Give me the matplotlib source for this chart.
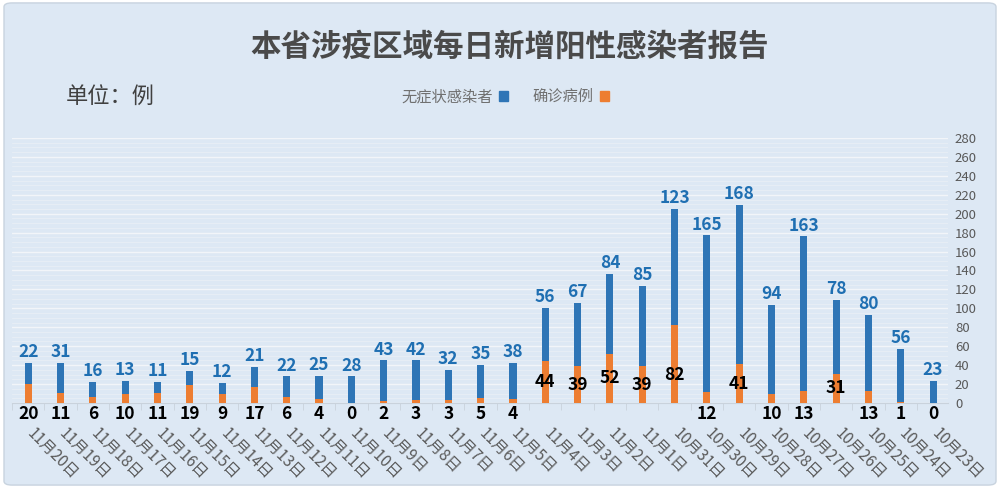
import numpy as np
import matplotlib
matplotlib.use('Agg')
import matplotlib.pyplot as plt
from matplotlib.patches import FancyBboxPatch, Patch

plt.rcParams['font.family'] = ['Noto Sans CJK SC', 'DejaVu Sans']

# 日期 (按时间顺序)
dates = ['10月23日', '10月24日', '10月25日', '10月26日', '10月27日', '10月28日',
         '10月29日', '10月30日', '10月31日', '11月1日', '11月2日', '11月3日',
         '11月4日', '11月5日', '11月6日', '11月7日', '11月8日', '11月9日',
         '11月10日', '11月11日', '11月12日', '11月13日', '11月14日', '11月15日',
         '11月16日', '11月17日', '11月18日', '11月19日', '11月20日']
confirmed = [0, 1, 13, 31, 13, 10, 41, 12, 82, 39, 52, 39, 44, 4, 5, 3, 3, 2,
             0, 4, 6, 17, 9, 19, 11, 10, 6, 11, 20]
asymptomatic = [23, 56, 80, 78, 163, 94, 168, 165, 123, 85, 84, 67, 56, 38, 35,
                32, 42, 43, 28, 25, 22, 21, 12, 15, 11, 13, 16, 31, 22]

bg = '#dde8f4'
blue = '#2e75b6'
orange = '#ed7d31'
gray = '#595959'

fig = plt.figure(figsize=(10, 4.88), dpi=100)
fig.patch.set_facecolor('white')
border = FancyBboxPatch((0.004, 0.006), 0.992, 0.988,
                        boxstyle='round,pad=0,rounding_size=0.008',
                        transform=fig.transFigure, facecolor=bg,
                        edgecolor='#c8d3df', linewidth=1, zorder=-10)
fig.patches.append(border)

ax = fig.add_axes([0.012, 0.1742, 0.936, 0.543])
ax.set_facecolor('none')

x = np.arange(len(dates))
conf = np.array(confirmed)
asym = np.array(asymptomatic)

ax.bar(x, conf, width=0.22, color=orange, zorder=3)
ax.bar(x, asym, width=0.22, bottom=conf, color=blue, zorder=3)

# 数据标签
for xi, c, a in zip(x, conf, asym):
    ax.text(xi, c + a + 2, str(a), ha='center', va='bottom', color='#1f6fb2',
            fontsize=12.5, fontweight='bold', zorder=4)
    if c >= 30:
        ax.text(xi, min(c / 2, 30), str(c), ha='center', va='center',
                color='black', fontsize=12.5, fontweight='bold', zorder=4)
    else:
        ax.text(xi, -2, str(c), ha='center', va='top', color='black',
                fontsize=12.5, fontweight='bold', zorder=4)

ax.set_xlim(28.5, -0.46)
ax.set_ylim(0, 280)
ax.set_yticks(np.arange(0, 281, 20))
ax.set_yticks(np.arange(0, 281, 5), minor=True)
ax.yaxis.tick_right()
ax.tick_params(axis='y', which='both', length=0, labelsize=9.5, labelcolor=gray, pad=5)
ax.grid(axis='y', which='major', color='#f2f5f9', linewidth=1.0, zorder=1)
ax.grid(axis='y', which='minor', color='#e8eef6', linewidth=0.6, zorder=1)

ax.set_xticks(x - 0.22)
ax.set_xticklabels(dates, rotation=-45, ha='left', va='top',
                   rotation_mode='anchor', fontsize=11, color=gray)
ax.tick_params(axis='x', length=0, pad=16)
ax.set_xticks(x + 0.5, minor=True)
ax.tick_params(axis='x', which='minor', length=5, color='#c9d2dc', direction='out')
for side in ['top', 'left', 'right']:
    ax.spines[side].set_visible(False)
ax.spines['bottom'].set_color('#c9d2dc')

fig.text(0.51, 0.905, '本省涉疫区域每日新增阳性感染者报告', ha='center', va='center',
         fontsize=22, fontweight='bold', color='#4a4a4a')
fig.text(0.11, 0.80, '单位：例', ha='center', va='center', fontsize=16, color='#404040')

handles = [Patch(color=blue), Patch(color=orange)]
fig.legend(handles, ['无症状感染者', '确诊病例'], loc='center', bbox_to_anchor=(0.505, 0.802),
           ncol=2, frameon=False, markerfirst=False, fontsize=11, labelcolor='#707070',
           handlelength=0.6, handleheight=0.6, handletextpad=0.4, columnspacing=1.6)

fig.savefig('out.png', dpi=100, facecolor=fig.get_facecolor())
